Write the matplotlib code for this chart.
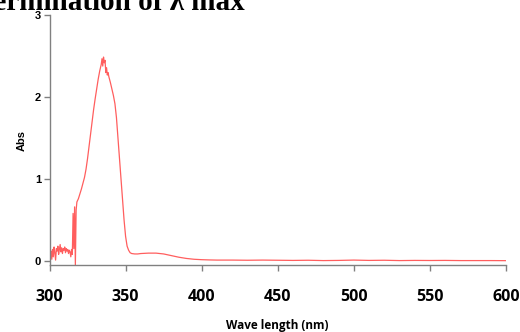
import matplotlib
matplotlib.use("Agg")
import matplotlib.pyplot as plt

# Data
wavelength = [300, 300.5, 301, 301.5, 302, 302.5, 303, 303.5, 304, 304.5, 305, 305.5, 306, 306.5,
              307, 307.5, 308, 308.5, 309, 309.5, 310, 310.5, 311, 311.5, 312, 312.5, 313, 313.5,
              314, 314.5, 315, 315.5, 316, 316.5, 317, 317.5, 318, 319, 320, 321, 322, 323, 324,
              325, 326, 327, 328, 329, 330, 331, 332, 333, 334, 334.5, 335, 335.5, 336, 336.5,
              337, 337.5, 338, 338.5, 339, 340, 341, 342, 343, 344, 345, 346, 347, 348, 349,
              350, 351, 352, 353, 354, 356, 358, 360, 365, 370, 375, 380, 385, 390, 395, 400,
              405, 410, 420, 430, 440, 450, 460, 470, 480, 490, 500, 510, 520, 530, 540, 550,
              560, 570, 580, 590, 600]
absorbance = [0.15, 0.08, 0.12, 0.02, 0.14, 0.05, 0.17, 0.10, 0.01, 0.15, 0.12, 0.18, 0.08, 0.14,
              0.20, 0.11, 0.16, 0.09, 0.15, 0.13, 0.17, 0.10, 0.15, 0.12, 0.14, 0.09, 0.13, 0.11,
              0.05, 0.14, 0.08, 0.58, 0.15, 0.66, -0.05, 0.62, 0.72, 0.76, 0.82, 0.88, 0.95, 1.02, 1.12,
              1.25, 1.40, 1.55, 1.70, 1.85, 1.98, 2.10, 2.22, 2.32, 2.40, 2.47, 2.38, 2.49, 2.42, 2.45,
              2.30, 2.36, 2.27, 2.30, 2.25, 2.18, 2.10, 2.02, 1.92, 1.75, 1.50, 1.25, 1.00, 0.75, 0.50,
              0.30, 0.18, 0.13, 0.10, 0.09, 0.085, 0.085, 0.09, 0.095, 0.095, 0.085, 0.065, 0.045, 0.03, 0.02, 0.015,
              0.012, 0.01, 0.01, 0.008, 0.01, 0.008, 0.006, 0.008, 0.004, 0.006, 0.01, 0.006, 0.008, 0.004, 0.006, 0.005,
              0.006, 0.004, 0.004, 0.004, 0.003]
xticks = [300, 350, 400, 450, 500, 550, 600]
yticks = [0, 1, 2, 3]

fig = plt.figure(figsize=(5.2, 3.32), dpi=100)
ax = fig.add_axes([49.5/520, 1 - 265/332, 456.5/520, (265 - 15.3)/332])
ax.plot(wavelength, absorbance, color="#ff5e5e", lw=0.9)
ax.set_xlim(300, 600)
ax.set_ylim(-0.05, 3.0)
ax.set_xticks(xticks)
ax.set_yticks(yticks)
for s in ["top", "right"]:
    ax.spines[s].set_visible(False)
for s in ["left", "bottom"]:
    ax.spines[s].set_color("#808080")
    ax.spines[s].set_linewidth(1.0)
ax.tick_params(axis="both", direction="out", length=4, width=1, color="#808080")
ax.tick_params(axis="x", pad=13)
ax.tick_params(axis="y", pad=2)
for lab in ax.get_xticklabels():
    lab.set_fontfamily("Open Sans")
    lab.set_fontweight("bold")
    lab.set_fontsize(11.5)
for lab in ax.get_yticklabels():
    lab.set_fontfamily("Liberation Sans")
    lab.set_fontweight("bold")
    lab.set_fontsize(8)
ax.set_xlabel("Wave length (nm)", fontfamily="Open Sans", fontweight="bold", fontsize=8.5, labelpad=10)
ax.set_ylabel("Abs", fontfamily="Liberation Sans", fontweight="bold", fontsize=8, labelpad=6)

fig.text(-0.096, 1 - 9.5/332, "Determination of λ max", fontfamily="Liberation Serif",
         fontweight="bold", fontsize=21, va="baseline", ha="left")

fig.savefig("out.png", dpi=100)
